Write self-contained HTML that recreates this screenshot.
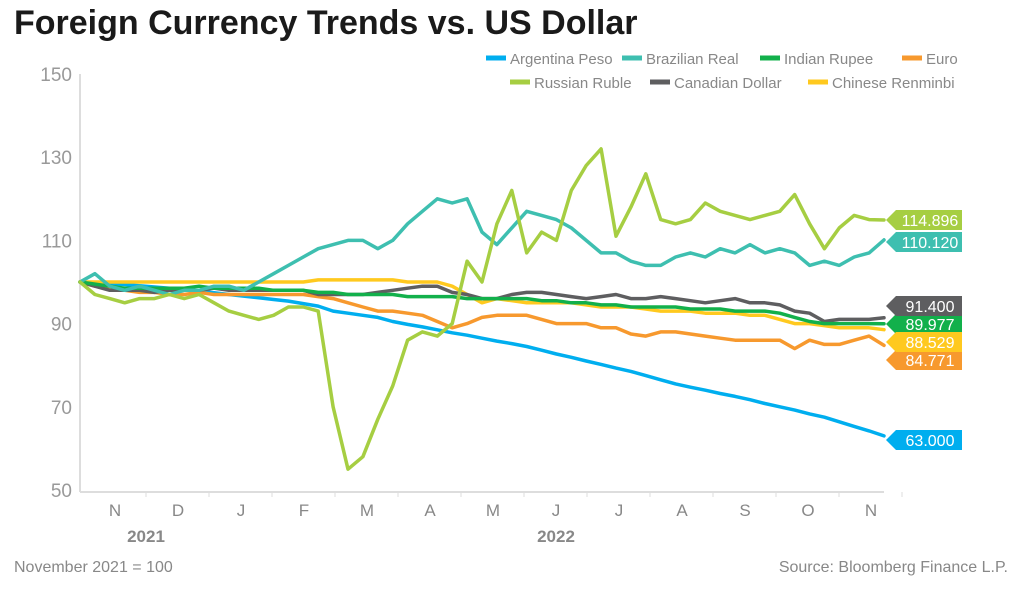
<!DOCTYPE html>
<html><head><meta charset="utf-8"><style>
body{margin:0;background:#fff;}
svg{display:block;font-family:"Liberation Sans",sans-serif;}
</style></head><body>
<svg width="1024" height="590" viewBox="0 0 1024 590">
<text x="14" y="34" font-size="34" font-weight="bold" fill="#1a1a1a">Foreign Currency Trends vs. US Dollar</text>
<g id="legend"></g>
<g id="axes"></g>
<g id="series"></g>
<g id="tags"></g>
<text x="14" y="572" font-size="16" fill="#888">November 2021 = 100</text>
<text x="1008" y="572" font-size="16" fill="#888" text-anchor="end">Source: Bloomberg Finance L.P.</text>
</svg>
<script>
const seriesNames = ["Argentina Peso","Brazilian Real","Indian Rupee","Euro","Russian Ruble","Canadian Dollar","Chinese Renminbi"];
const seriesColors = ["#00AEEF","#3EBFB0","#12B04B","#F7992E","#A6CE42","#5E5E60","#FFC91F"];
const argentina = [100,99.8,99.6,99.4,99.1,98.8,98.5,98.2,97.8,97.4,97,96.6,96.2,95.8,95.4,94.8,94.2,93,92.5,92,91.5,90.5,89.8,89.2,88.5,87.8,87.2,86.5,85.8,85.2,84.5,83.6,82.7,81.9,81,80.2,79.3,78.5,77.5,76.5,75.5,74.7,74,73.2,72.5,71.7,70.8,70,69.2,68.3,67.5,66.4,65.3,64.2,63];
const brazil = [100,102,99,98,99,98,97,98,98,99,99,98,100,102,104,106,108,109,110,110,108,110,114,117,120,119,120,112,109,113,117,116,115,113,110,107,107,105,104,104,106,107,106,108,107,109,107,108,107,104,105,104,106,107,110.12];
const india = [100,99.5,99,98.5,98.5,98.5,98.5,98.5,99,98.5,98.5,98.5,98.5,98,98,98,97.5,97.5,97,97,97,97,96.5,96.5,96.5,96.5,96,96,96,96,96,95.5,95.5,95,95,94.5,94.5,94,94,94,94,93.5,93.5,93.5,93,93,93,92.5,91.5,90.5,90,90,90,90,89.977];
const euro = [100,99,98.5,98,97.5,97.5,97,97,97.5,97,97,97,97,97,97,97,96.5,96,95,94,93,93,92.5,92,90.5,89,90,91.5,92,92,92,91,90,90,90,89,89,87.5,87,88,88,87.5,87,86.5,86,86,86,86,84,86,85,85,86,87,84.771];
const ruble = [100,97,96,95,96,96,97,96,97,95,93,92,91,92,94,94,93,70,55,58,67,75,86,88,87,90,105,100,114,122,107,112,110,122,128,132,111,118,126,115,114,115,119,117,116,115,116,117,121,114,108,113,116,115,114.896];
const canada = [100,99,98,98,98,97.5,98,98,98,98.5,98,98,98,98,98,98,97,97,97,97,97.5,98,98.5,99,99,97.5,97,96,96,97,97.5,97.5,97,96.5,96,96.5,97,96,96,96.5,96,95.5,95,95.5,96,95,95,94.5,93,92.5,90.5,91,91,91,91.4];
const china = [100,100,100,100,100,100,100,100,100,100,100,100,100,100,100,100,100.5,100.5,100.5,100.5,100.5,100.5,100,100,100,99,97,95,96,95.5,95,95,95,95,94.5,94,94,94,93.5,93,93,93,92.5,92.5,92.5,92,92,91,90,90,89.5,89,89,89,88.529];
const seriesData = [argentina,brazil,india,euro,ruble,canada,china];
const yTicks = [50,70,90,110,130,150];
const monthLabels = ["N","D","J","F","M","A","M","J","J","A","S","O","N"];
const yearLabels = ["2021","2022"];

const NS="http://www.w3.org/2000/svg";
const X0=80,X1=884,Y0=490,Y1=74,VMIN=50,VMAX=150;
function xScale(i,n){return X0+(X1-X0)*i/(n-1);}
function yScale(v){return Y0-(v-VMIN)/(VMAX-VMIN)*(Y0-Y1);}
function mk(tag,attrs,parent){const e=document.createElementNS(NS,tag);for(const k in attrs)e.setAttribute(k,attrs[k]);parent.appendChild(e);return e;}

const axes=document.getElementById('axes');
const yl=mk('line',{x1:X0,y1:Y1,x2:X0,y2:Y0+2,stroke:'#ddd','stroke-width':2},axes);


const xl=mk('line',{x1:X0,y1:Y0+2,x2:X1,y2:Y0+2,stroke:'#ddd','stroke-width':2},axes);


yTicks.forEach(v=>{
  const t=mk('text',{x:72,y:yScale(v)+7,'font-size':19,fill:'#999','text-anchor':'end'},axes);
  t.textContent=v;
  
  
});
monthLabels.forEach((m,i)=>{
  const x=115+i*63;
  const t=mk('text',{x:x,y:516,'font-size':17,fill:'#888','text-anchor':'middle'},axes);
  t.textContent=m;
  
  
  const tk=mk('line',{x1:x+31,y1:Y0+2,x2:x+31,y2:Y0+7,stroke:'#ddd','stroke-width':1},axes);
  
  
});
[[146,yearLabels[0]],[556,yearLabels[1]]].forEach(([x,s])=>{
  const t=mk('text',{x:x,y:542,'font-size':17,'font-weight':'bold',fill:'#888','text-anchor':'middle'},axes);
  t.textContent=s;
  
  
});

const sg=document.getElementById('series');
const order=[0,3,6,5,2,1,4];
order.forEach(k=>{
  const d=seriesData[k];
  const pts=d.map((v,i)=>xScale(i,d.length).toFixed(1)+','+yScale(v).toFixed(1)).join(' ');
  const p=mk('polyline',{points:pts,fill:'none',stroke:seriesColors[k],'stroke-width':3.5,'stroke-linejoin':'round','stroke-linecap':'round'},sg);
  
  
});

const tagY=[440,242,324,360,220,306,342];
const tg=document.getElementById('tags');
seriesData.forEach((d,k)=>{
  const y=tagY[k],x=886;
  const poly=mk('polygon',{points:`${x},${y} ${x+10},${y-10} ${x+76},${y-10} ${x+76},${y+10} ${x+10},${y+10}`,fill:seriesColors[k]},tg);
  
  
  const t=mk('text',{x:x+44,y:y+6,'font-size':16,fill:'#fff','text-anchor':'middle'},tg);
  t.textContent=d[d.length-1].toFixed(3);
  
  
});

const lg=document.getElementById('legend');
const legPos=[[486,58],[622,58],[760,58],[902,58],[510,82],[650,82],[808,82]];
seriesNames.forEach((n,k)=>{
  const [x,y]=legPos[k];
  const l=mk('line',{x1:x,y1:y,x2:x+20,y2:y,stroke:seriesColors[k],'stroke-width':5},lg);
  
  
  const t=mk('text',{x:x+24,y:y+6,'font-size':15,fill:'#888'},lg);
  t.textContent=n;
  
  
});
</script>
</body></html>
